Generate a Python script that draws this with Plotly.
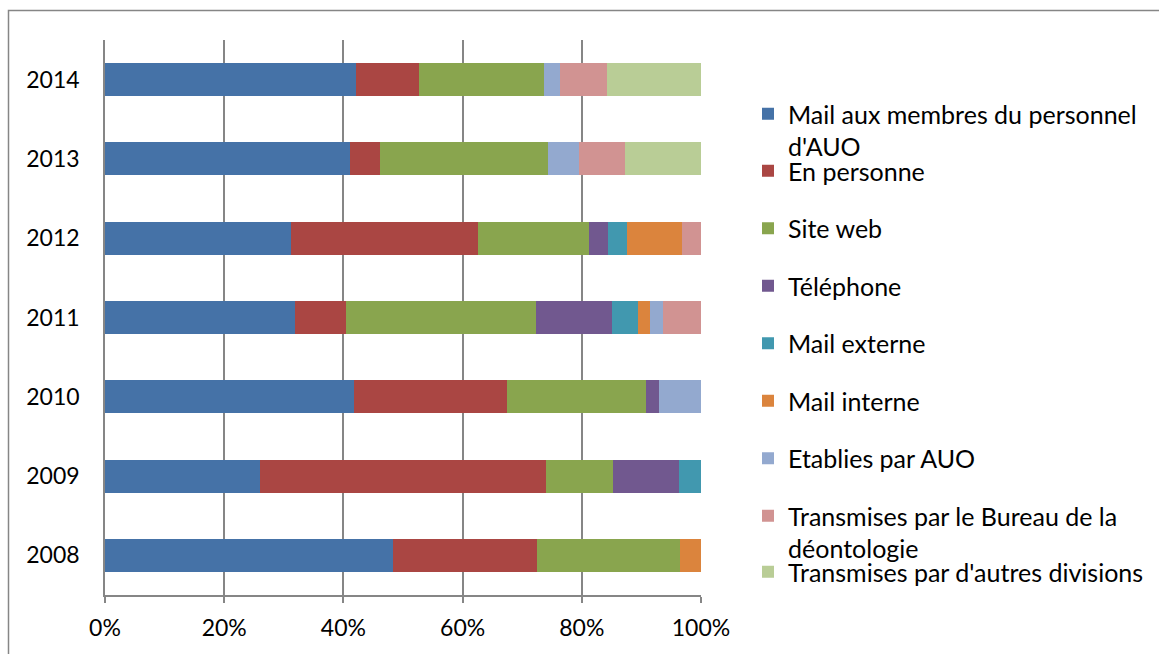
import plotly.graph_objects as go

# Complaint sources per year (counts; bars are normalised to 100 %)
years = ["2008", "2009", "2010", "2011", "2012", "2013", "2014"]

mail_membres = [14, 7, 18, 15, 10, 16, 16]
en_personne = [7, 13, 11, 4, 10, 2, 4]
site_web = [7, 3, 10, 15, 6, 11, 8]
telephone = [0, 3, 1, 6, 1, 0, 0]
mail_externe = [0, 1, 0, 2, 1, 0, 0]
mail_interne = [1, 0, 0, 1, 3, 0, 0]
etablies_auo = [0, 0, 3, 1, 0, 2, 1]
bureau_deonto = [0, 0, 0, 3, 1, 3, 3]
autres_divisions = [0, 0, 0, 0, 0, 5, 6]

series_names = [
    "Mail aux membres du personnel<br>d'AUO",
    "En personne",
    "Site web",
    "Téléphone",
    "Mail externe",
    "Mail interne",
    "Etablies par AUO",
    "Transmises par le Bureau de la<br>déontologie",
    "Transmises par d'autres divisions",
]
series_values = [
    mail_membres, en_personne, site_web, telephone, mail_externe,
    mail_interne, etablies_auo, bureau_deonto, autres_divisions,
]
series_colors = [
    "#4572A7", "#AA4643", "#89A54E", "#71588F", "#4198AF",
    "#DB843D", "#93A9CF", "#D19392", "#B9CD96",
]
x_ticks = [0, 20, 40, 60, 80, 100]
x_tick_labels = [f"{v}%" for v in x_ticks]

W, H = 1159, 654
ML, MR, MT, MB = 105, 458, 40, 59
PW, PH = W - ML - MR, H - MT - MB


def px_x(px):
    return (px - ML) / PW


def px_y(py):
    return (H - MB - py) / PH


FONT = "Lato"
fig = go.Figure()

legend_ids = ["legend"] + [f"legend{i}" for i in range(2, 10)]
legend_centers = [115.5, 172.5, 230, 287.5, 345, 402.5, 460, 517.5, 575]

for name, vals, col, lid in zip(series_names, series_values, series_colors, legend_ids):
    fig.add_trace(go.Bar(
        y=years, x=vals, name=name, orientation="h",
        marker=dict(color=col, line=dict(width=0)),
        legend=lid,
    ))

# one legend box per entry, placed in container coordinates
layout_legends = {}
for lid, cy in zip(legend_ids, legend_centers):
    top = cy - 24.5 if lid != "legend9" else cy - 26
    layout_legends[lid] = dict(
        xref="container", yref="container",
        x=748 / W, y=1 - top / H, xanchor="left", yanchor="top",
        valign="top", bgcolor="rgba(0,0,0,0)", borderwidth=0,
        font=dict(family=FONT, size=25, color="#000000"),
    )

grid_col = "#868686"
fig.update_layout(
    width=W, height=H,
    margin=dict(l=ML, r=MR, t=MT, b=MB, pad=0),
    paper_bgcolor="white", plot_bgcolor="white",
    barmode="stack", barnorm="percent", bargap=0.584,
    showlegend=True,
    font=dict(family=FONT, size=23, color="#000000"),
    xaxis=dict(
        range=[0, 100], tickvals=x_ticks, ticktext=x_tick_labels,
        showgrid=True, gridcolor=grid_col, gridwidth=1.5,
        showline=True, linecolor=grid_col, linewidth=1.5,
        ticks="outside", ticklen=6, tickcolor=grid_col, tickwidth=1.5,
        zeroline=False, fixedrange=True, ticklabelstandoff=6,
    ),
    yaxis=dict(
        type="category", categoryorder="array", categoryarray=years,
        range=[-0.5, len(years) - 0.5],
        showline=True, linecolor=grid_col, linewidth=1.5,
        ticks="", showgrid=False, zeroline=False, ticklabelstandoff=19,
    ),
    yaxis2=dict(
        overlaying="y", anchor="x", side="left",
        range=[-0.5, len(years) - 0.5],
        tickvals=[i - 0.5 for i in range(len(years) + 1)],
        ticks="outside", ticklen=7, tickcolor=grid_col, tickwidth=1.5,
        showticklabels=False, showgrid=False, showline=False, zeroline=False,
    ),
    shapes=[dict(
        type="rect", xref="paper", yref="paper",
        x0=px_x(8.5), x1=px_x(1175), y0=px_y(680), y1=px_y(10.5),
        line=dict(color=grid_col, width=1.5), fillcolor="rgba(0,0,0,0)",
        layer="below",
    )],
    **layout_legends,
)

fig.write_html("out.html")
